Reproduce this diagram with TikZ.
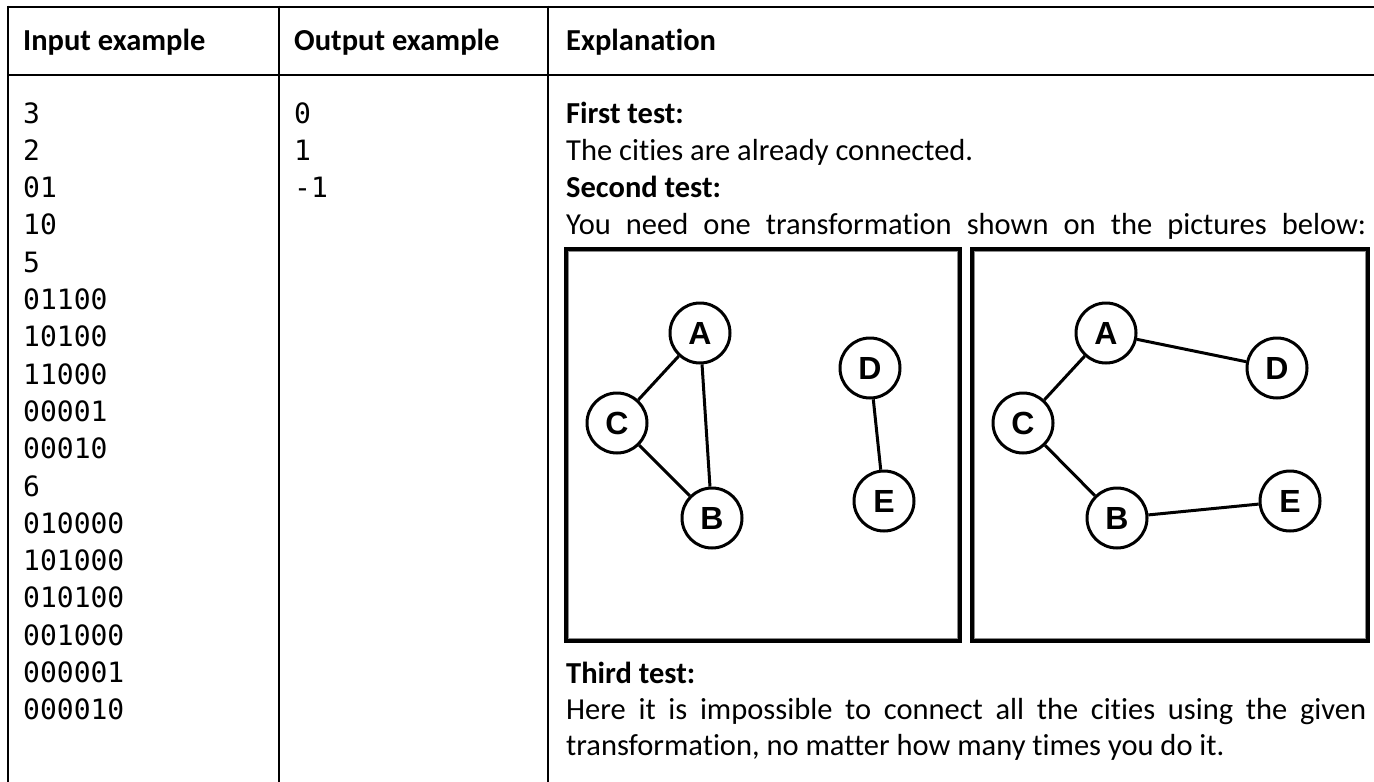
\documentclass[tikz,border=0pt]{standalone}
\usepackage{fontspec}
\setmainfont{Carlito}[Ligatures=NoCommon]
\newfontfamily\codefont{DejaVu Sans Mono}
\newfontfamily\letterfont{Liberation Sans}
% a line set flush to both margins of the explanation cell
\newcommand{\fullline}[1]{\makebox[800pt][s]{#1}}
\begin{document}
\begin{tikzpicture}[x=1pt,y=-1pt,
  rule/.style={line width=2.7pt},
  txt/.style={anchor=base west, inner sep=0pt, font=\fontsize{30.5}{37}\selectfont},
  head/.style={anchor=base west, inner sep=0pt, font=\fontsize{30.5}{37}\selectfont\bfseries},
  code/.style={anchor=base west, inner sep=0pt, font=\codefont\fontsize{28}{37}\selectfont},
  city/.style={circle, draw, line width=3pt, minimum size=60pt, inner sep=0pt,
               font=\letterfont\bfseries\fontsize{32}{32}\selectfont},
  road/.style={line width=3pt},
  frame/.style={line width=3.8pt},
  innerframe/.style={line width=1pt, draw=black!45},
]
\useasboundingbox (0,0) rectangle (1374,782);
\fill[white] (0,0) rectangle (1374,782);

% table rules
\draw[rule] (8,7) -- (1374,7);
\draw[rule] (8,75) -- (1374,75);
\draw[rule] (8,5.65) -- (8,782);
\draw[rule] (279,5.65) -- (279,782);
\draw[rule] (548,5.65) -- (548,782);

% header row
\node[head] (hin)  at (23,50)  {Input example};
\node[head] (hout) at (294,50) {Output example};
\node[head] (hexp) at (566,50) {Explanation};

% input column
\foreach \s [count=\i] in {3,2,01,10,5,01100,10100,11000,00001,00010,6,010000,101000,010100,001000,000001,000010}
  \node[code] (in\i) at (23,{123+37.3*(\i-1)}) {\s};

% output column
\node[code] (out1) at (294,123)   {0};
\node[code] (out2) at (294,160.3) {1};
\node[code] (out3) at (294,197.6) {-1};

% explanation column
\node[head] (e1) at (566,123)   {First test:};
\node[txt]  (e2) at (566,160.3) {The cities are already connected.};
\node[head] (e3) at (566,197.6) {Second test:};
\node[txt]  (e4) at (566,234.9) {\fullline{You need one transformation shown on the pictures below:}};
\node[head] (e5) at (566,683)   {Third test:};
\node[txt]  (e6) at (566,719)   {\fullline{Here it is impossible to connect all the cities using the given}};
\node[txt]  (e7) at (566,755)   {transformation, no matter how many times you do it.};

% picture frames
\draw[frame] (565.9,248.9) rectangle (960.1,641.1);
\draw[innerframe] (568.5,251.5) rectangle (957.5,638.5);
\draw[frame] (971.9,248.9) rectangle (1368.1,641.1);
\draw[innerframe] (974.5,251.5) rectangle (1365.5,638.5);

% before the transformation
\node[city] (lA) at (700,333) {A};
\node[city] (lC) at (617,423) {C};
\node[city] (lB) at (712,518) {B};
\node[city] (lD) at (870,368) {D};
\node[city] (lE) at (884,501) {E};
\draw[road] (lA) -- (lC);
\draw[road] (lA) -- (lB);
\draw[road] (lC) -- (lB);
\draw[road] (lD) -- (lE);

% after the transformation
\node[city] (rA) at (1106,333) {A};
\node[city] (rC) at (1023,423) {C};
\node[city] (rB) at (1117,518) {B};
\node[city] (rD) at (1277,368) {D};
\node[city] (rE) at (1290,501) {E};
\draw[road] (rA) -- (rC);
\draw[road] (rA) -- (rD);
\draw[road] (rC) -- (rB);
\draw[road] (rB) -- (rE);
\end{tikzpicture}
\end{document}
